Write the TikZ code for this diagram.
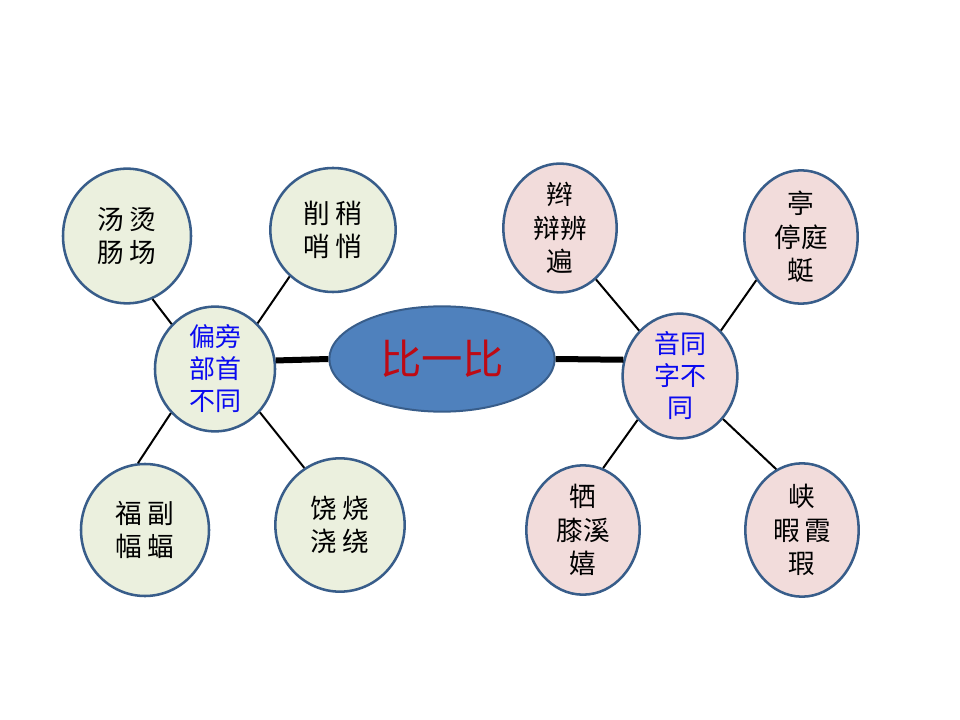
\documentclass[tikz,border=0pt]{standalone}
\usepackage{fontspec}
\newfontfamily\cjk{Noto Sans CJK SC}
\usepackage{tikz}
\usetikzlibrary{shapes.geometric}
\definecolor{leafgreen}{RGB}{235,240,222}
\definecolor{leafpink}{RGB}{242,220,219}
\definecolor{rimblue}{RGB}{56,93,138}
\definecolor{coreblue}{RGB}{79,129,189}
\definecolor{hubblue}{RGB}{10,10,240}
\definecolor{corered}{RGB}{190,10,20}
\tikzstyle{leaf}=[ellipse,draw=rimblue,line width=1.9pt,inner sep=0pt,align=center,font=\cjk\fontsize{20}{25}\selectfont]
\tikzstyle{gleaf}=[leaf,fill=leafgreen]
\tikzstyle{pleaf}=[leaf,fill=leafpink]
\tikzstyle{hub}=[leaf,text=hubblue,font=\cjk\fontsize{19.5}{24}\selectfont]
\tikzstyle{core}=[ellipse,draw=rimblue,fill=coreblue,line width=1.5pt,inner sep=0pt,text=corered,font=\cjk\fontsize{31}{33}\selectfont]
\tikzstyle{link}=[draw,black,line width=1.5pt]
\tikzstyle{biglink}=[draw,black,line width=4.5pt]

\begin{document}
\begin{tikzpicture}[x=0.75pt,y=-0.75pt]
    \useasboundingbox (0,0) rectangle (960,720);
    % middle
    \node[core,minimum width=169pt,minimum height=79pt] (mid) at (442,359) {比一比};
    % left group
    \node[hub,fill=leafgreen,minimum width=90pt,minimum height=90pt] (lhub) at (215,369) {偏旁\\部首\\不同};
    \node[gleaf,minimum width=96pt,minimum height=101pt] (ltl) at (127,236) {汤\hspace{4pt}烫\\肠\hspace{4pt}场};
    \node[gleaf,minimum width=94pt,minimum height=93pt] (ltr) at (333,230) {削\hspace{4pt}稍\\哨\hspace{4pt}悄};
    \node[gleaf,minimum width=96pt,minimum height=99pt] (lbl) at (145,530) {福\hspace{4pt}副\\幅\hspace{4pt}蝠};
    \node[gleaf,minimum width=97pt,minimum height=100pt] (lbr) at (340,525) {饶\hspace{4pt}烧\\浇\hspace{4pt}绕};
    % right group
    \node[hub,fill=leafpink,minimum width=86pt,minimum height=90pt] (rhub) at (680,376) {音同\\字不\\同};
    \node[pleaf,minimum width=85pt,minimum height=95pt] (rtl) at (560,228) {辫\\辩辨\\遍};
    \node[pleaf,minimum width=85pt,minimum height=100pt] (rtr) at (801,237) {亭\\停庭\\蜓};
    \node[pleaf,minimum width=85pt,minimum height=97pt] (rbl) at (583,530) {牺\\膝溪\\嬉};
    \node[pleaf,minimum width=85pt,minimum height=100pt] (rbr) at (802,530) {峡\\暇\hspace{3pt}霞\\瑕};
    % links
    \draw[biglink] (lhub.8) edge (mid.west);
    \draw[biglink] (mid.east) edge (rhub.164);
    \draw[link] (lhub.134) edge (ltl.292);
    \draw[link] (lhub.47) edge (ltr.227);
    \draw[link] (lhub.225) edge (lbl.96);
    \draw[link] (lhub.316) edge (lbr.122);
    \draw[link] (rhub.132) edge (rtl.305);
    \draw[link] (rhub.48) edge (rtr.224);
    \draw[link] (rhub.226) edge (rbl.72);
    \draw[link] (rhub.315) edge (rbr.113);
  \end{tikzpicture}
\end{document}
